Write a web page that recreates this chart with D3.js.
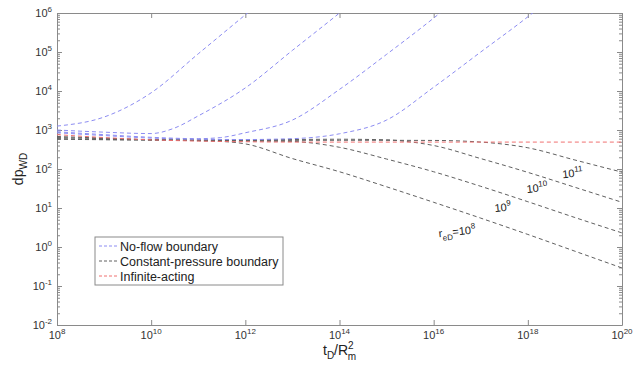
<!DOCTYPE html>
<html>
<head>
<meta charset="utf-8">
<script src="https://cdnjs.cloudflare.com/ajax/libs/d3/7.8.5/d3.min.js"></script>
<style>
  body { margin: 0; background: #fff; }
  svg { font-family: "Liberation Sans", Arial, sans-serif; }
</style>
</head>
<body>
<div id="chart"></div>
<script>
// tick labels (exponents)
const xTickExp = [8, 10, 12, 14, 16, 18, 20];
const yTickExp = [-2, -1, 0, 1, 2, 3, 4, 5, 6];

// no-flow boundary curves: [tD/Rm^2, dpWD]
const noFlow1 = [[1e8, 1260], [1e9, 2150], [1e10, 9000], [1e11, 9e4], [1e12, 9e5], [1e13, 9e6]];
const noFlow2 = [[1e8, 1000], [1e9, 880], [1e10, 810], [3e10, 1100], [1e11, 2300], [1e12, 1.2e4], [1e13, 1.1e5], [1e14, 1e6], [1e15, 1e7]];
const noFlow3 = [[1e8, 900], [1e9, 760], [1e10, 650], [1e11, 600], [3e11, 640], [1e12, 850], [1e13, 1800], [1e14, 1.1e4], [1e15, 8.7e4], [1e16, 7.4e5], [1e17, 7.4e6]];
const noFlow4 = [[1e8, 850], [1e9, 720], [1e10, 620], [1e11, 580], [1e12, 570], [1e13, 600], [1e14, 800], [1e15, 1800], [1e16, 1.25e4], [1e17, 1e5], [1e18, 8e5], [1e19, 8e6]];

// constant-pressure boundary curves
const constP8 = [[1e8, 680], [1e9, 620], [1e10, 560], [1e11, 530], [5e11, 490], [1e12, 440], [1e13, 185], [1e14, 85], [1e15, 35], [1e16, 14], [1e17, 5.5], [1e18, 2.1], [1e19, 0.78], [1e20, 0.29]];
const constP9 = [[1e8, 640], [1e9, 600], [1e10, 560], [1e11, 540], [1e12, 520], [1e13, 510], [2e13, 480], [1e14, 360], [1e15, 180], [1e16, 85], [1e17, 36], [1e18, 14.5], [1e19, 5.7], [1e20, 2.3]];
const constP10 = [[1e8, 600], [1e9, 570], [1e10, 560], [1e12, 560], [1e14, 580], [1e15, 560], [3e15, 500], [1e16, 400], [1e17, 185], [1e18, 82], [1e19, 34], [1e20, 14]];
const constP11 = [[1e8, 580], [1e10, 550], [1e12, 540], [1e14, 545], [1e16, 540], [1e17, 490], [1e18, 350], [1e19, 170], [1e20, 83]];

// infinite-acting
const infinite = [[1e8, 760], [1e9, 640], [1e10, 560], [1e11, 520], [1e12, 500], [1e13, 490], [1e20, 490]];

// curve labels: position in data units (text baseline centre)
const labels = [
  { text: ["r", "eD", "=10", "8"], x: 3.2e16, y: 2.0 },
  { text: ["10", "9"], x: 3.0e17, y: 8.3 },
  { text: ["10", "10"], x: 1.6e18, y: 26 },
  { text: ["10", "11"], x: 9.1e18, y: 62 }
];

const width = 637, height = 365;
const margin = { left: 57, right: 15, top: 13, bottom: 40 };

const svg = d3.select('#chart').append('svg')
  .attr('width', width).attr('height', height);

const x = d3.scaleLog().domain([1e8, 1e20]).range([margin.left, width - margin.right]);
const y = d3.scaleLog().domain([1e-2, 1e6]).range([height - margin.bottom, margin.top]);

svg.append('clipPath').attr('id', 'clip')
  .append('rect')
  .attr('x', x.range()[0]).attr('y', y.range()[1])
  .attr('width', x.range()[1] - x.range()[0])
  .attr('height', y.range()[0] - y.range()[1]);

const axisColor = '#8a8a8a';
const blue = '#8c8cf2', black = '#606060', red = '#f07070';
const xMajor = xTickExp.map(e => Math.pow(10, e));
const yMajor = yTickExp.map(e => Math.pow(10, e));
const yMinor = [];
for (let e = -2; e < 6; e++) {
  for (let m = 2; m < 10; m++) yMinor.push(m * Math.pow(10, e));
}

function styleAxis(g) {
  g.select('.domain').attr('stroke', axisColor);
  g.selectAll('.tick line').attr('stroke', axisColor);
  g.selectAll('.tick text').remove();
}

// x axes (bottom + top), ticks inward
svg.append('g').attr('transform', `translate(0,${y.range()[0]})`)
  .call(d3.axisBottom(x).tickValues(xMajor).tickSize(-5).tickSizeOuter(0))
  .call(styleAxis);
svg.append('g').attr('transform', `translate(0,${y.range()[1]})`)
  .call(d3.axisTop(x).tickValues(xMajor).tickSize(-5).tickSizeOuter(0))
  .call(styleAxis);

// y axes (left + right), major and minor ticks inward
[['left', x.range()[0]], ['right', x.range()[1]]].forEach(([side, pos]) => {
  const mk = side === 'left' ? d3.axisLeft : d3.axisRight;
  svg.append('g').attr('transform', `translate(${pos},0)`)
    .call(mk(y).tickValues(yMajor).tickSize(-5).tickSizeOuter(0))
    .call(styleAxis);
  svg.append('g').attr('transform', `translate(${pos},0)`)
    .call(mk(y).tickValues(yMinor).tickSize(-3).tickSizeOuter(0))
    .call(styleAxis)
    .select('.domain').remove();
});

// tick labels with superscripts
const tickFill = '#333';
xTickExp.forEach(e => {
  const t = svg.append('text')
    .attr('x', x(Math.pow(10, e)))
    .attr('y', y.range()[0] + 14)
    .attr('text-anchor', 'middle')
    .attr('font-size', 11).attr('fill', tickFill);
  t.append('tspan').text('10');
  t.append('tspan').attr('dy', -5).attr('font-size', 8).text(e);
});
yTickExp.forEach(e => {
  const t = svg.append('text')
    .attr('x', x.range()[0] - 5)
    .attr('y', y(Math.pow(10, e)) + 4)
    .attr('text-anchor', 'end')
    .attr('font-size', 11).attr('fill', tickFill);
  t.append('tspan').text('10');
  t.append('tspan').attr('dy', -5).attr('font-size', 8).text(e);
});

// axis titles
const xt = svg.append('text')
  .attr('x', (x.range()[0] + x.range()[1]) / 2)
  .attr('y', height - 10)
  .attr('text-anchor', 'middle')
  .attr('font-size', 14).attr('fill', '#222');
xt.append('tspan').text('t');
xt.append('tspan').attr('dy', 4).attr('font-size', 10).text('D');
xt.append('tspan').attr('dy', -4).text('/R');
xt.append('tspan').attr('dy', -6).attr('font-size', 10).text('2');
xt.append('tspan').attr('dx', -6).attr('dy', 11).attr('font-size', 10).text('m');

const yt = svg.append('text')
  .attr('transform', `translate(23,${(y.range()[0] + y.range()[1]) / 2}) rotate(-90)`)
  .attr('text-anchor', 'middle')
  .attr('font-size', 14).attr('fill', '#222');
yt.append('tspan').text('dp');
yt.append('tspan').attr('dy', 4).attr('font-size', 10).text('WD');

// curves
const line = d3.line().x(d => x(d[0])).y(d => y(d[1])).curve(d3.curveMonotoneX);
const plot = svg.append('g').attr('clip-path', 'url(#clip)');

const series = [
  { data: constP8, color: black },
  { data: constP9, color: black },
  { data: constP10, color: black },
  { data: constP11, color: black },
  { data: noFlow1, color: blue },
  { data: noFlow2, color: blue },
  { data: noFlow3, color: blue },
  { data: noFlow4, color: blue },
  { data: infinite, color: red }
];

plot.selectAll('path.curve').data(series).enter()
  .append('path')
  .attr('class', 'curve')
  .attr('d', d => line(d.data))
  .attr('fill', 'none')
  .attr('stroke', d => d.color)
  .attr('stroke-width', 1)
  .attr('stroke-dasharray', '4,3');

// curve labels
labels.forEach(l => {
  const t = svg.append('text')
    .attr('transform', `translate(${x(l.x)},${y(l.y)}) rotate(-6)`)
    .attr('text-anchor', 'middle')
    .attr('font-size', 11).attr('fill', '#222');
  if (l.text.length === 4) {
    t.append('tspan').text(l.text[0]);
    t.append('tspan').attr('dy', 4).attr('font-size', 8).text(l.text[1]);
    t.append('tspan').attr('dy', -4).text(l.text[2]);
    t.append('tspan').attr('dy', -5).attr('font-size', 8).text(l.text[3]);
  } else {
    t.append('tspan').text(l.text[0]);
    t.append('tspan').attr('dy', -5).attr('font-size', 8).text(l.text[1]);
  }
});

// legend
const legendItems = [
  { name: 'No-flow boundary', color: blue },
  { name: 'Constant-pressure boundary', color: black },
  { name: 'Infinite-acting', color: red }
];
const lg = svg.append('g').attr('transform', 'translate(95,237)');
lg.append('rect').attr('width', 188).attr('height', 48)
  .attr('fill', '#fff').attr('stroke', axisColor);
legendItems.forEach((it, i) => {
  const row = lg.append('g').attr('transform', `translate(0,${9 + i * 15})`);
  row.append('line').attr('x1', 4).attr('x2', 23).attr('y1', 0).attr('y2', 0)
    .attr('stroke', it.color).attr('stroke-dasharray', '3,2');
  row.append('text').attr('x', 25).attr('y', 4.5)
    .attr('font-size', 12.5).attr('fill', '#222').text(it.name);
});
</script>
</body>
</html>
